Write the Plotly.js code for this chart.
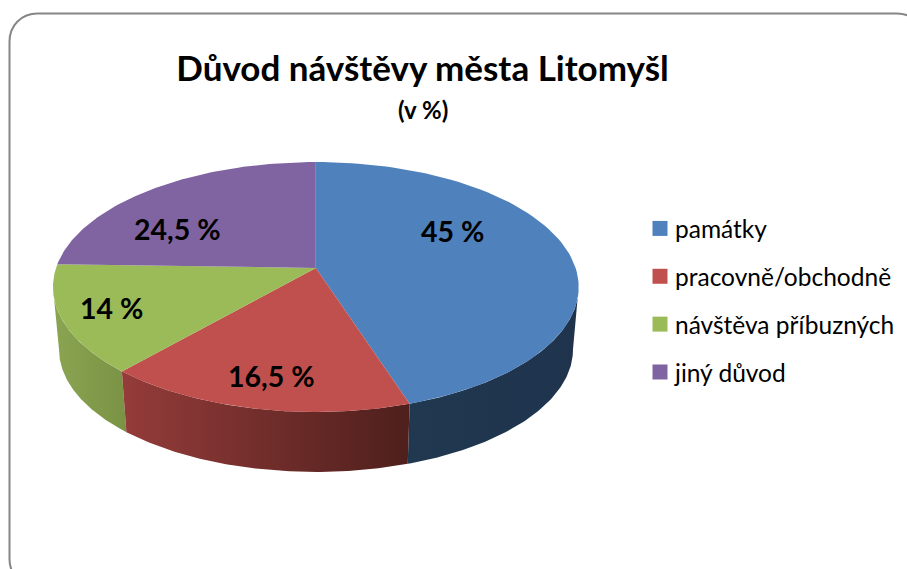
<!DOCTYPE html>
<html>
<head>
<meta charset="utf-8">
<script src="https://cdn.plot.ly/plotly-3.0.1.min.js"></script>
<style>html,body{margin:0;padding:0;background:#fff;overflow:hidden}</style>
</head>
<body>
<div id="chart" style="width:907px;height:569px"></div>
<script>
var categories = ['památky', 'pracovně/obchodně', 'návštěva příbuzných', 'jiný důvod'];
var values = [45, 16.5, 14, 24.5];
var topColors = ['#4f81bd', '#c0504d', '#9bbb59', '#8064a2'];
var wallStops = [['#203850', '#1f334d'], ['#943c3a', '#4e1f1c'], ['#8aa552', '#7a9244'], ['#4d3c62', '#4d3c62']];
var labelX = [452, 271.5, 111.5, 177.5];
var labelY = [231, 376, 308, 229];

// perspective of the tilted disc, in pixels of the 907x569 picture
var FONT = 'Lato, Carlito, Calibri, sans-serif';
var P = 0.152;
var TOP_FACE = {x0: 315.8, y0: 268, a: 259.8, b: 122.1};
var BASE_FACE = {x0: 316, y0: 331, a: 254, b: 119.5};
// turn at which the disc's outline is widest: the wall is only seen between these
var SIDE = Math.acos(-P) / (2 * Math.PI);

function project(face, turn, r) {
  var t = turn * 2 * Math.PI;
  var u = r * Math.sin(t), v = r * Math.cos(t), w = 1 + P * v;
  return [face.x0 + face.a * u / w, face.y0 - face.b * v / w];
}
function arc(face, from, to) {
  var pts = [], n = 90;
  for (var i = 0; i <= n; i++) pts.push(project(face, from + (to - from) * i / n, 1));
  return pts;
}
var total = values.reduce(function (s, v) { return s + v; }, 0);
var spans = [], acc = 0;
values.forEach(function (v) { spans.push([acc / total, (acc + v) / total]); acc += v; });

var traces = [];
// front walls
[0, 2, 1].forEach(function (i) {
  var a = Math.max(spans[i][0], SIDE), b = Math.min(spans[i][1], 1 - SIDE);
  if (b <= a) return;
  var pts = arc(TOP_FACE, a, b).concat(arc(BASE_FACE, b, a));
  pts.push(pts[0]);
  traces.push({
    type: 'scatter', mode: 'lines', showlegend: false, hoverinfo: 'skip',
    x: pts.map(function (p) { return p[0]; }), y: pts.map(function (p) { return p[1]; }),
    line: {width: 0}, fill: 'toself',
    fillgradient: {type: 'horizontal', colorscale: [[0, wallStops[i][0]], [1, wallStops[i][1]]]}
  });
});
// top faces
categories.forEach(function (name, i) {
  var pts = [project(TOP_FACE, 0, 0)].concat(arc(TOP_FACE, spans[i][0], spans[i][1]));
  pts.push(pts[0]);
  traces.push({
    type: 'scatter', mode: 'lines', showlegend: false, name: name,
    x: pts.map(function (p) { return p[0]; }), y: pts.map(function (p) { return p[1]; }),
    line: {width: 0}, fill: 'toself', fillcolor: topColors[i],
    text: name + ': ' + String(values[i]).replace('.', ',') + ' %', hoverinfo: 'text', hoveron: 'fills'
  });
});
// legend keys
categories.forEach(function (name, i) {
  traces.push({
    type: 'scatter', mode: 'markers', name: name, legendgroup: name, hoverinfo: 'skip',
    x: [null], y: [null], marker: {symbol: 'square', size: 15, color: topColors[i]}
  });
});

var annotations = values.map(function (v, i) {
  return {
    x: labelX[i], y: labelY[i], xref: 'x', yref: 'y', showarrow: false,
    text: '<b>' + String(v).replace('.', ',') + ' %</b>',
    font: {family: FONT, size: 28.5, color: '#000'}
  };
});
annotations.push({
  x: 423, y: 109, xref: 'x', yref: 'y', showarrow: false,
  text: '<b>(v %)</b>', font: {family: FONT, size: 24, color: '#000'}
});

var L = 9.5, T = 13.5, R = 925, B = 587, K = 28, C = 12;
var frame = 'M ' + (L + K) + ' ' + T + ' L ' + (R - K) + ' ' + T +
  ' C ' + (R - C) + ' ' + T + ' ' + R + ' ' + (T + C) + ' ' + R + ' ' + (T + K) +
  ' L ' + R + ' ' + (B - K) +
  ' C ' + R + ' ' + (B - C) + ' ' + (R - C) + ' ' + B + ' ' + (R - K) + ' ' + B +
  ' L ' + (L + K) + ' ' + B +
  ' C ' + (L + C) + ' ' + B + ' ' + L + ' ' + (B - C) + ' ' + L + ' ' + (B - K) +
  ' L ' + L + ' ' + (T + K) +
  ' C ' + L + ' ' + (T + C) + ' ' + (L + C) + ' ' + T + ' ' + (L + K) + ' ' + T + ' Z';

var layout = {
  width: 907, height: 569,
  margin: {l: 0, r: 0, t: 0, b: 0},
  paper_bgcolor: '#fff', plot_bgcolor: '#fff',
  title: {
    text: '<b>Důvod návštěvy města Litomyšl</b>',
    font: {family: FONT, size: 35, color: '#000'},
    x: 422.5 / 907, xanchor: 'center', y: 1 - 69 / 569, yanchor: 'middle'
  },
  xaxis: {range: [0, 907], visible: false, fixedrange: true},
  yaxis: {range: [569, 0], visible: false, fixedrange: true},
  showlegend: true,
  legend: {
    x: 635 / 907, xanchor: 'left', y: 1 - 206 / 569, yanchor: 'top',
    tracegroupgap: 13, itemclick: false, itemdoubleclick: false,
    bgcolor: 'rgba(0,0,0,0)',
    font: {family: FONT, size: 24.5, color: '#000'}
  },
  shapes: [{type: 'path', xref: 'x', yref: 'y', path: frame, line: {color: '#868686', width: 2}, layer: 'below'}],
  annotations: annotations
};

Plotly.newPlot('chart', traces, layout, {displayModeBar: false, responsive: false}).then(function () {
  document.querySelectorAll('#chart .legend .legendsymbols').forEach(function (g) {
    g.setAttribute('transform', 'translate(5,0)');
  });
});
</script>
</body>
</html>
